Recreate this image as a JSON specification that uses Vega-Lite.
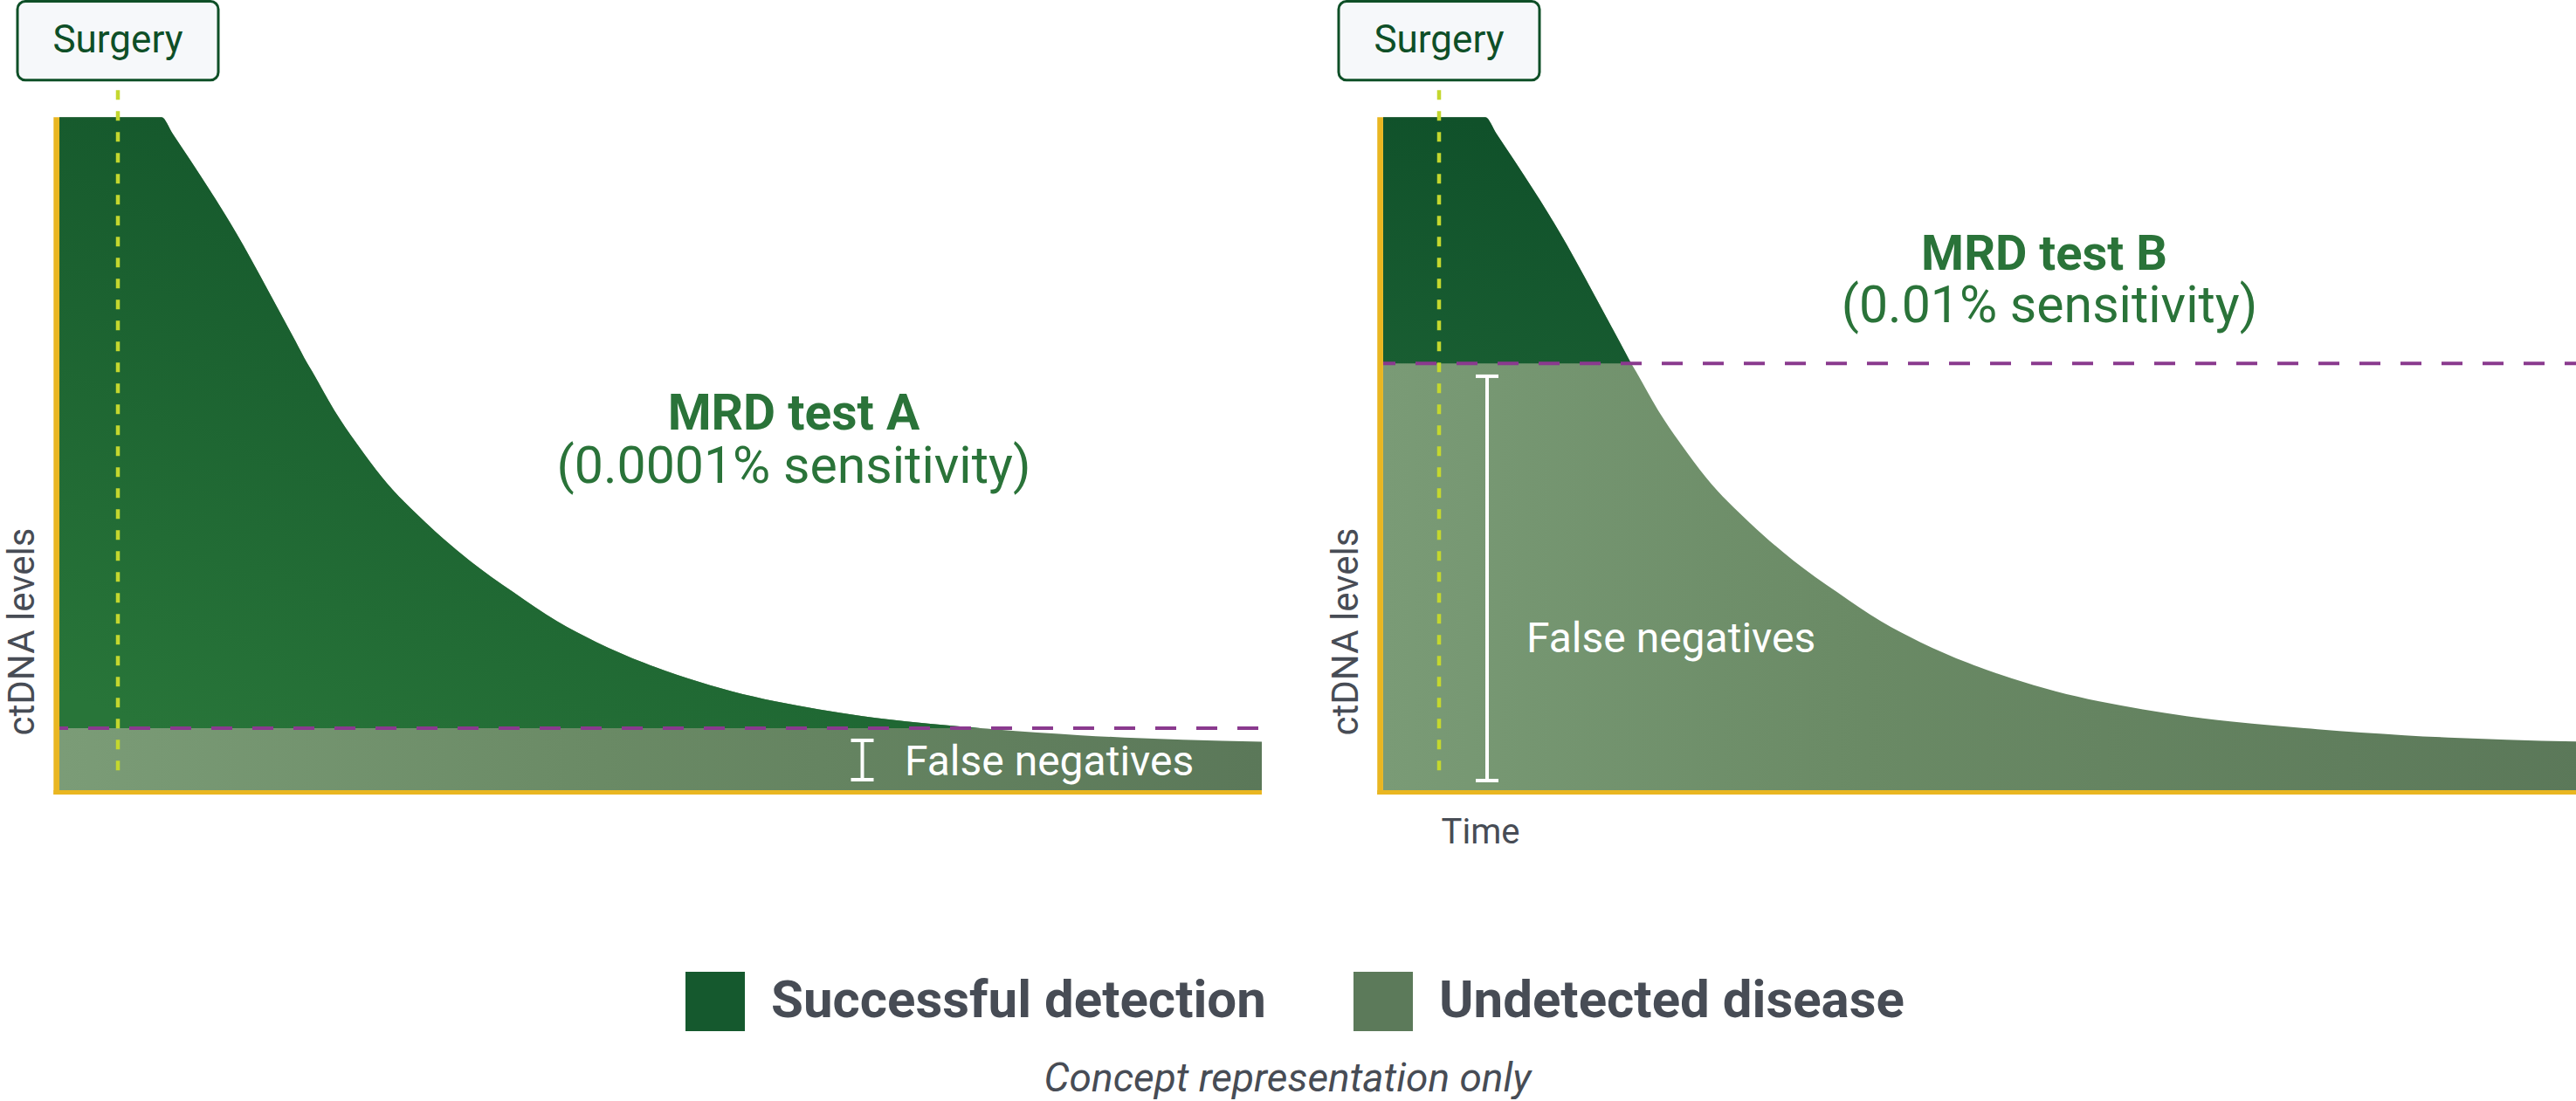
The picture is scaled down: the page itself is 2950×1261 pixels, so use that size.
{
  "$schema": "https://vega.github.io/schema/vega-lite/v6.json",
  "background": "white",
  "padding": {"left": 4, "top": 0, "right": 0, "bottom": 0},
  "autosize": {"type": "pad"},
  "spacing": 72,
  "config": {
    "view": {"stroke": null},
    "font": "Roboto",
    "axis": {"domain": false, "ticks": false, "labels": false, "grid": false, "titleFont": "Roboto", "titleFontWeight": "normal", "titleColor": "#474c55", "titleFontSize": 42}
  },
  "title": {"text": "Concept representation only", "orient": "bottom", "anchor": "middle", "font": "Roboto", "fontSize": 46, "fontStyle": "italic", "fontWeight": "normal", "color": "#474c55", "offset": 33, "dx": -7},
  "datasets": {
    "curve": [
      {"t": 0, "v": 100}, {"t": 117, "v": 100}, {"t": 130, "v": 97.5}, {"t": 150, "v": 93.6},
      {"t": 170, "v": 89.6}, {"t": 190, "v": 85.5}, {"t": 210, "v": 81.1}, {"t": 230, "v": 76.4},
      {"t": 250, "v": 71.6}, {"t": 270, "v": 66.8}, {"t": 284, "v": 63.4}, {"t": 290, "v": 62.1},
      {"t": 315, "v": 56.4}, {"t": 340, "v": 51.6}, {"t": 370, "v": 46.4}, {"t": 420, "v": 39.7},
      {"t": 470, "v": 34.1}, {"t": 520, "v": 29.4}, {"t": 570, "v": 25.1}, {"t": 615, "v": 22.0},
      {"t": 670, "v": 18.9}, {"t": 720, "v": 16.6}, {"t": 770, "v": 14.7}, {"t": 820, "v": 13.2},
      {"t": 870, "v": 12.0}, {"t": 920, "v": 11.0}, {"t": 970, "v": 10.2}, {"t": 1020, "v": 9.6},
      {"t": 1055, "v": 9.2}, {"t": 1070, "v": 9.04}, {"t": 1120, "v": 8.55}, {"t": 1170, "v": 8.15},
      {"t": 1220, "v": 7.82}, {"t": 1287, "v": 7.5}, {"t": 1377, "v": 7.2}
    ],
    "legendItems": [{"cat": "Successful detection"}, {"cat": "Undetected disease"}],
    "one": [{}]
  },
  "hconcat": [
    {
      "width": 1377,
      "height": 905,
      "layer": [
        {
          "data": {"name": "curve"},
          "mark": {"type": "area", "interpolate": "monotone", "color": {"gradient": "linear", "x1": 0, "y1": 0, "x2": 1, "y2": 0, "stops": [{"offset": 0, "color": "#7b9c77"}, {"offset": 0.45, "color": "#6a8a65"}, {"offset": 1, "color": "#5b7859"}]}},
          "encoding": {
            "x": {"field": "t", "type": "quantitative", "scale": {"domain": [0, 1377], "nice": false, "zero": false}, "axis": {"title": null}},
            "y": {"field": "v", "type": "quantitative", "scale": {"domain": [0, 117.4], "nice": false}, "axis": {"title": "ctDNA levels", "titleX": -29.5, "titleY": 723, "titleAlign": "center", "titleBaseline": "alphabetic", "titleAngle": 270}}
          }
        },
        {
          "data": {"name": "curve"},
          "transform": [{"filter": "datum.v >= 9.2"}],
          "mark": {"type": "area", "interpolate": "monotone", "color": {"gradient": "linear", "x1": 0.1, "y1": 1, "x2": 0.7, "y2": 0, "stops": [{"offset": 0, "color": "#287539"}, {"offset": 1, "color": "#0f4f28"}]}},
          "encoding": {
            "x": {"field": "t", "type": "quantitative"},
            "y": {"field": "v", "type": "quantitative"},
            "y2": {"datum": 9.2}
          }
        },
        {
          "data": {"name": "one"},
          "mark": {"type": "rule", "color": "#8a3a8e", "strokeWidth": 4, "strokeDash": [24, 23], "strokeDashOffset": 14},
          "encoding": {"x": {"datum": 0}, "x2": {"datum": 1377}, "y": {"datum": 9.2}}
        },
        {
          "data": {"name": "one"},
          "mark": {"type": "rule", "color": "#c4d72e", "strokeWidth": 4.5, "strokeDash": [11, 13]},
          "encoding": {"x": {"datum": 67}, "y": {"datum": 104}, "y2": {"datum": 1.3}}
        },
        {
          "data": {"name": "one"},
          "mark": {"type": "rule", "color": "#e9b621", "strokeWidth": 6.7, "xOffset": -3.3, "yOffset": 5},
          "encoding": {"x": {"datum": 0}, "y": {"datum": 0}, "y2": {"datum": 100}}
        },
        {
          "data": {"name": "one"},
          "mark": {"type": "rule", "color": "#e9b621", "strokeWidth": 5, "xOffset": -6.6, "yOffset": 2.5},
          "encoding": {"x": {"datum": 0}, "x2": {"datum": 1377}, "y": {"datum": 0}}
        },
        {
          "data": {"name": "one"},
          "mark": {"type": "rule", "color": "white", "strokeWidth": 4},
          "encoding": {"x": {"datum": 919.5}, "y": {"datum": 7.4}, "y2": {"datum": 1.56}}
        },
        {
          "data": {"name": "one"},
          "mark": {"type": "rule", "color": "white", "strokeWidth": 4},
          "encoding": {"x": {"datum": 906.5}, "x2": {"datum": 932.5}, "y": {"datum": 7.4}}
        },
        {
          "data": {"name": "one"},
          "mark": {"type": "rule", "color": "white", "strokeWidth": 4},
          "encoding": {"x": {"datum": 906.5}, "x2": {"datum": 932.5}, "y": {"datum": 1.56}}
        },
        {
          "data": {"name": "one"},
          "mark": {"type": "text", "text": "False negatives", "color": "white", "fontSize": 48, "align": "left", "baseline": "alphabetic", "font": "Roboto"},
          "encoding": {"x": {"datum": 968}, "y": {"datum": 2.2}}
        },
        {
          "data": {"name": "one"},
          "mark": {"type": "text", "text": "MRD test A", "color": "#2a7339", "fontSize": 57, "fontWeight": "bold", "align": "center", "baseline": "alphabetic", "font": "Roboto"},
          "encoding": {"x": {"datum": 841}, "y": {"datum": 53.6}}
        },
        {
          "data": {"name": "one"},
          "mark": {"type": "text", "text": "(0.0001% sensitivity)", "color": "#2a7339", "fontSize": 59, "align": "center", "baseline": "alphabetic", "font": "Roboto"},
          "encoding": {"x": {"datum": 841}, "y": {"datum": 45.6}}
        },
        {
          "data": {"name": "one"},
          "mark": {"type": "rect", "fill": "#f6f8fa", "stroke": "#0e4f27", "strokeWidth": 3, "cornerRadius": 9},
          "encoding": {"x": {"datum": -48}, "x2": {"datum": 182}, "y": {"datum": 117.2}, "y2": {"datum": 105.5}}
        },
        {
          "data": {"name": "one"},
          "mark": {"type": "text", "text": "Surgery", "color": "#0e4f27", "fontSize": 44, "align": "center", "baseline": "alphabetic", "font": "Roboto"},
          "encoding": {"x": {"datum": 67}, "y": {"datum": 109.6}}
        },
        {
          "data": {"name": "legendItems"},
          "mark": {"type": "square", "opacity": 0, "size": 4624},
          "encoding": {
            "x": {"datum": 0},
            "y": {"datum": 0},
            "color": {
              "field": "cat", "type": "nominal",
              "scale": {"domain": ["Successful detection", "Undetected disease"], "range": ["#15592e", "#5c7a5a"]},
              "legend": {"orient": "none", "legendX": 717, "legendY": 1113, "direction": "horizontal", "title": null, "symbolType": "square", "symbolSize": 4624, "symbolOpacity": 1, "symbolStrokeWidth": 0, "labelFontSize": 60, "labelFontWeight": "bold", "labelColor": "#474c55", "labelFont": "Roboto", "labelOffset": 30, "columnPadding": 100, "padding": 0, "labelLimit": 1000}
            }
          }
        }
      ]
    },
    {
      "width": 1372,
      "height": 905,
      "layer": [
        {
          "data": {"name": "curve"},
          "mark": {"type": "area", "interpolate": "monotone", "clip": true, "color": {"gradient": "linear", "x1": 0, "y1": 0, "x2": 1, "y2": 0, "stops": [{"offset": 0, "color": "#7a9b76"}, {"offset": 0.4, "color": "#6a8a65"}, {"offset": 1, "color": "#5b7859"}]}},
          "encoding": {
            "x": {"field": "t", "type": "quantitative", "scale": {"domain": [0, 1372], "nice": false, "zero": false}, "axis": {"title": "Time", "titleX": 111, "titleY": 60, "titleAlign": "center", "titleBaseline": "alphabetic", "titleFontSize": 40}},
            "y": {"field": "v", "type": "quantitative", "scale": {"domain": [0, 117.4], "nice": false}, "axis": {"title": "ctDNA levels", "titleX": -30, "titleY": 723, "titleAlign": "center", "titleBaseline": "alphabetic", "titleAngle": 270}}
          }
        },
        {
          "data": {"name": "curve"},
          "transform": [{"filter": "datum.v >= 63.4"}],
          "mark": {"type": "area", "interpolate": "monotone", "color": {"gradient": "linear", "x1": 0, "y1": 1, "x2": 0.3, "y2": 0, "stops": [{"offset": 0, "color": "#195e32"}, {"offset": 1, "color": "#10512a"}]}},
          "encoding": {
            "x": {"field": "t", "type": "quantitative"},
            "y": {"field": "v", "type": "quantitative"},
            "y2": {"datum": 63.4}
          }
        },
        {
          "data": {"name": "one"},
          "mark": {"type": "rule", "color": "#8a3a8e", "strokeWidth": 4, "strokeDash": [24, 23], "strokeDashOffset": 10},
          "encoding": {"x": {"datum": 0}, "x2": {"datum": 1372}, "y": {"datum": 63.4}}
        },
        {
          "data": {"name": "one"},
          "mark": {"type": "rule", "color": "#c4d72e", "strokeWidth": 4.5, "strokeDash": [11, 13]},
          "encoding": {"x": {"datum": 64}, "y": {"datum": 104}, "y2": {"datum": 1.3}}
        },
        {
          "data": {"name": "one"},
          "mark": {"type": "rule", "color": "#e9b621", "strokeWidth": 6.7, "xOffset": -3.4, "yOffset": 5},
          "encoding": {"x": {"datum": 0}, "y": {"datum": 0}, "y2": {"datum": 100}}
        },
        {
          "data": {"name": "one"},
          "mark": {"type": "rule", "color": "#e9b621", "strokeWidth": 5, "xOffset": -6.7, "yOffset": 2.5},
          "encoding": {"x": {"datum": 0}, "x2": {"datum": 1372}, "y": {"datum": 0}}
        },
        {
          "data": {"name": "one"},
          "mark": {"type": "rule", "color": "white", "strokeWidth": 4},
          "encoding": {"x": {"datum": 119}, "y": {"datum": 61.5}, "y2": {"datum": 1.43}}
        },
        {
          "data": {"name": "one"},
          "mark": {"type": "rule", "color": "white", "strokeWidth": 4},
          "encoding": {"x": {"datum": 106}, "x2": {"datum": 132}, "y": {"datum": 61.5}}
        },
        {
          "data": {"name": "one"},
          "mark": {"type": "rule", "color": "white", "strokeWidth": 4},
          "encoding": {"x": {"datum": 106}, "x2": {"datum": 132}, "y": {"datum": 1.43}}
        },
        {
          "data": {"name": "one"},
          "mark": {"type": "text", "text": "False negatives", "color": "white", "fontSize": 48, "align": "left", "baseline": "alphabetic", "font": "Roboto"},
          "encoding": {"x": {"datum": 164}, "y": {"datum": 20.5}}
        },
        {
          "data": {"name": "one"},
          "mark": {"type": "text", "text": "MRD test B", "color": "#2a7339", "fontSize": 56, "fontWeight": "bold", "align": "center", "baseline": "alphabetic", "font": "Roboto"},
          "encoding": {"x": {"datum": 757}, "y": {"datum": 77.3}}
        },
        {
          "data": {"name": "one"},
          "mark": {"type": "text", "text": "(0.01% sensitivity)", "color": "#2a7339", "fontSize": 59, "align": "center", "baseline": "alphabetic", "font": "Roboto"},
          "encoding": {"x": {"datum": 763}, "y": {"datum": 69.5}}
        },
        {
          "data": {"name": "one"},
          "mark": {"type": "rect", "fill": "#f6f8fa", "stroke": "#0e4f27", "strokeWidth": 3, "cornerRadius": 9},
          "encoding": {"x": {"datum": -51}, "x2": {"datum": 179}, "y": {"datum": 117.2}, "y2": {"datum": 105.5}}
        },
        {
          "data": {"name": "one"},
          "mark": {"type": "text", "text": "Surgery", "color": "#0e4f27", "fontSize": 44, "align": "center", "baseline": "alphabetic", "font": "Roboto"},
          "encoding": {"x": {"datum": 64}, "y": {"datum": 109.6}}
        }
      ]
    }
  ]
}
